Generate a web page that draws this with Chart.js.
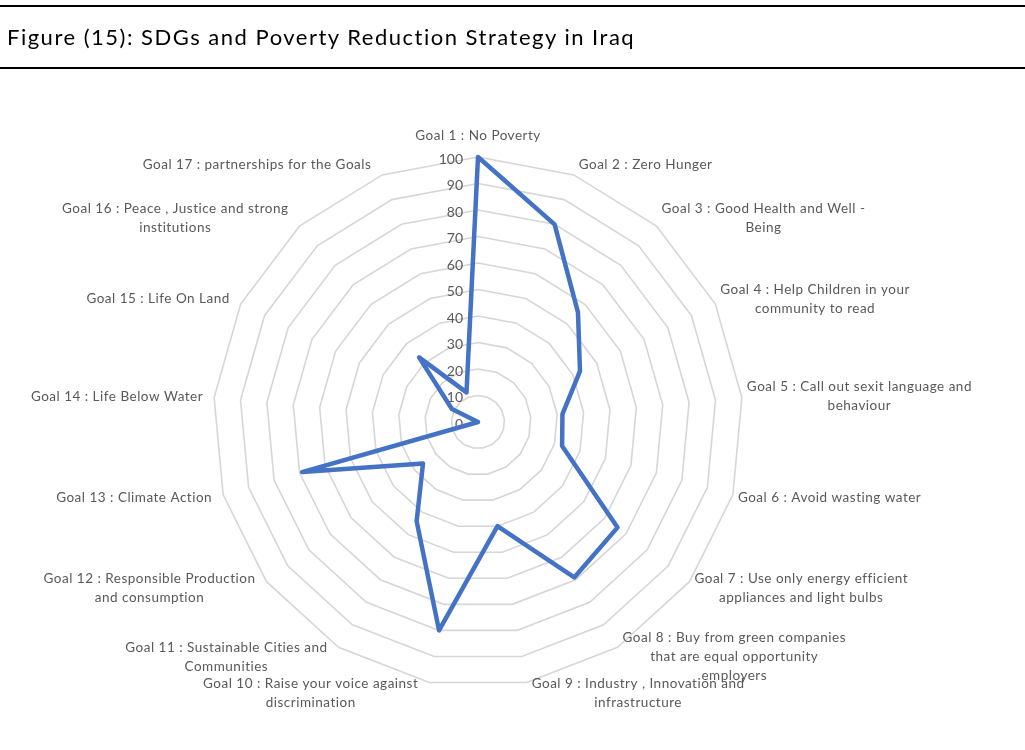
<!DOCTYPE html>
<html>
<head>
<meta charset="utf-8">
<script src="https://cdn.jsdelivr.net/npm/chart.js@4.4.1/dist/chart.umd.min.js"></script>
<style>
  body { margin: 0; background: #fff; }
  #title {
    position: absolute; left: 0; top: 5px; width: 1025px; height: 64px;
    box-sizing: border-box; border-top: 2px solid #000; border-bottom: 2px solid #000;
    font-family: Lato, sans-serif; font-size: 22px; letter-spacing: 1.5px;
    line-height: 60px; padding-left: 7px; color: #000;
  }
  #wrap { position: absolute; left: 0; top: 0; width: 1025px; height: 750px; }
</style>
</head>
<body>
<div id="wrap"><canvas id="myChart"></canvas></div>
<div id="title">Figure (15): SDGs and Poverty Reduction Strategy in Iraq</div>
<script>
const goals = [
  ["Goal 1 : No Poverty"],
  ["Goal 2 : Zero Hunger"],
  ["Goal 3 : Good Health and Well -", "Being"],
  ["Goal 4 : Help Children in your", "community to read"],
  ["Goal 5 : Call out sexit language and", "behaviour"],
  ["Goal 6 : Avoid wasting water"],
  ["Goal 7 : Use only energy efficient", "appliances and light bulbs"],
  ["Goal 8 : Buy from green companies", "that are equal opportunity", "employers"],
  ["Goal 9 : Industry , Innovation and", "infrastructure"],
  ["Goal 10 : Raise your voice against", "discrimination"],
  ["Goal 11 : Sustainable Cities and", "Communities"],
  ["Goal 12 : Responsible Production", "and consumption"],
  ["Goal 13 : Climate Action"],
  ["Goal 14 : Life Below Water"],
  ["Goal 15 : Life On Land"],
  ["Goal 16 : Peace , Justice and strong", "institutions"],
  ["Goal 17 : partnerships for the Goals"]
];
const scores = [100, 80, 56, 43, 32, 33, 66, 69, 40, 80, 44, 26, 69, 0, 11, 33, 12];
const axisMin = 0;
const axisMax = 100;
const axisStep = 10;

const textColor = '#595959';
const labelFont = '13.5px Lato';
const tickFont = '14px Lato';
const lineH = 19;

// tick numbers sit left of the vertical axis, under the data line
const tickText = {
  id: 'tickText',
  beforeDatasetsDraw(chart) {
    const s = chart.scales.r;
    const ctx = chart.ctx;
    ctx.save();
    ctx.font = tickFont;
    ctx.fillStyle = textColor;
    ctx.textAlign = 'right';
    ctx.textBaseline = 'middle';
    s.ticks.forEach(t => {
      const d = s.getDistanceFromCenterForValue(t.value);
      ctx.fillText(t.label, s.xCenter - 15, s.yCenter - d + 2);
    });
    ctx.restore();
  }
};

// goal labels, lines centred inside each block like the Excel export
const goalText = {
  id: 'goalText',
  afterDraw(chart) {
    const s = chart.scales.r;
    const ctx = chart.ctx;
    ctx.save();
    ctx.font = labelFont;
    ctx.letterSpacing = '0.5px';
    ctx.fillStyle = textColor;
    ctx.textAlign = 'center';
    ctx.textBaseline = 'middle';
    goals.forEach((lines, i) => {
      const a = s.getIndexAngle(i);
      const p = s.getPointPosition(i, s.drawingArea);
      const w = Math.max(...lines.map(l => ctx.measureText(l).width));
      const h = lines.length * lineH;
      const sn = Math.sin(a), cs = Math.cos(a);
      let cx, cy;
      if (Math.abs(sn) < 0.01) {
        cx = p.x;
        cy = p.y - 12 - h / 2;
      } else if (sn > 0) {
        cx = p.x + 5 + w / 2;
        cy = p.y - cs * 11;
      } else {
        cx = p.x - 11 - w / 2;
        cy = p.y - cs * 11;
      }
      lines.forEach((l, k) => {
        ctx.fillText(l, cx, cy - h / 2 + lineH * (k + 0.5));
      });
    });
    ctx.restore();
  }
};

const ctx = document.getElementById('myChart');

new Chart(ctx, {
  type: 'radar',
  data: {
    labels: goals,
    datasets: [{
      data: scores,
      borderColor: '#4472c4',
      borderWidth: 4.5,
      borderJoinStyle: 'round',
      fill: false,
      pointRadius: 0,
      pointHoverRadius: 0
    }]
  },
  options: {
    responsive: true,
    maintainAspectRatio: false,
    animation: false,
    devicePixelRatio: 1,
    layout: { padding: { left: 213, right: 282, top: 157, bottom: 63 } },
    plugins: { legend: { display: false }, tooltip: { enabled: false } },
    scales: {
      r: {
        min: axisMin,
        max: axisMax,
        ticks: { stepSize: axisStep, display: false },
        grid: { color: '#d6d6d6', lineWidth: 1.6 },
        angleLines: { display: false },
        pointLabels: { display: false }
      }
    }
  },
  plugins: [tickText, goalText]
});
</script>
</body>
</html>
